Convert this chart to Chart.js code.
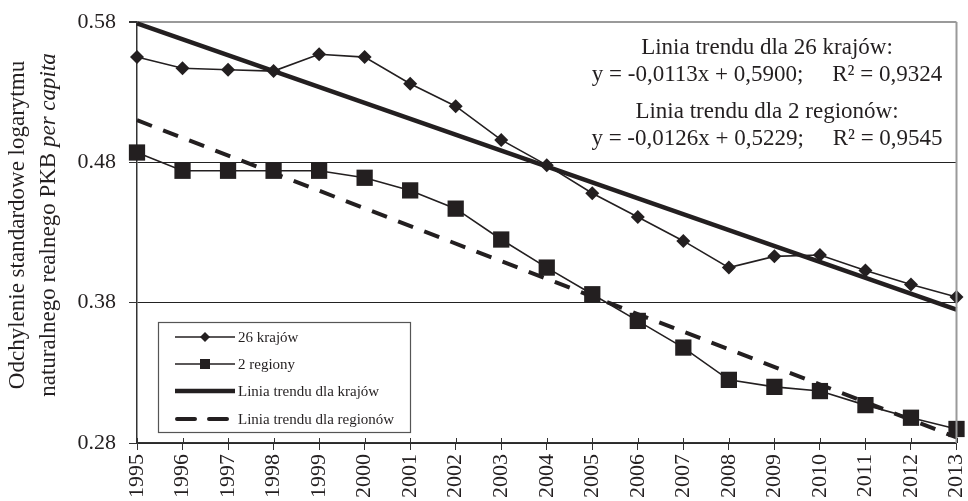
<!DOCTYPE html>
<html>
<head>
<meta charset="utf-8">
<script src="https://cdn.jsdelivr.net/npm/chart.js@4/dist/chart.umd.min.js"></script>
<style>
  body { margin: 0; background: #fff; }
</style>
</head>
<body>
<canvas id="chart" width="968" height="501"></canvas>
<script>

const years = ["1995","1996","1997","1998","1999","2000","2001","2002","2003","2004",
               "2005","2006","2007","2008","2009","2010","2011","2012","2013"]

const kraje26 = [0.555, 0.547, 0.546, 0.545, 0.557, 0.555, 0.536, 0.520, 0.496, 0.478,
                 0.458, 0.441, 0.424, 0.405, 0.413, 0.414, 0.403, 0.393, 0.384]

const regiony2 = [0.487, 0.474, 0.474, 0.474, 0.474, 0.469, 0.460, 0.447, 0.425, 0.405,
                  0.386, 0.367, 0.348, 0.325, 0.320, 0.317, 0.307, 0.298, 0.290]

// trend lines - only the two ends as seen on the picture
const trendKraje = [0.579, null, null, null, null, null, null, null, null, null,
                    null, null, null, null, null, null, null, null, 0.375]
const trendRegiony = [0.510, null, null, null, null, null, null, null, null, null,
                      null, null, null, null, null, null, null, null, 0.284]

const yTicks = [0.28, 0.38, 0.48, 0.58]

const seriesNames = ["26 krajów", "2 regiony", "Linia trendu dla krajów", "Linia trendu dla regionów"]

const trendText = [
    "Linia trendu dla 26 krajów:",
    "y = -0,0113x + 0,5900;     R² = 0,9324",
    "Linia trendu dla 2 regionów:",
    "y = -0,0126x + 0,5229;     R² = 0,9545"
]

const ink = "#231f20"
const serif = "'Liberation Serif', 'Times New Roman', serif"


const extras = {
    id: "extras",

    afterDraw(chart){
        const ctx = chart.ctx
        const area = chart.chartArea
        const x = chart.scales.x

        ctx.save()

        // right border of the plot
        ctx.strokeStyle = "#9a9a9a"
        ctx.lineWidth = 2
        ctx.beginPath()
        ctx.moveTo(area.right, area.top)
        ctx.lineTo(area.right, area.bottom)
        ctx.stroke()

        // small ticks inside the plot on the x axis
        ctx.strokeStyle = "#333"
        ctx.lineWidth = 1
        years.forEach(function(y, i){
            const px = Math.round(x.getPixelForValue(i)) + 0.5
            ctx.beginPath()
            ctx.moveTo(px, area.bottom)
            ctx.lineTo(px, area.bottom - 5)
            ctx.stroke()
        })

        // trend equations
        ctx.fillStyle = ink
        ctx.textAlign = "center"
        ctx.textBaseline = "middle"
        ctx.font = "23px " + serif
        const rows = [48, 75, 112, 139]
        trendText.forEach(function(t, i){
            ctx.fillText(t, 767, rows[i])
        })

        // y title, two rotated lines, "per capita" in italic
        ctx.save()
        ctx.translate(18, 225)
        ctx.rotate(-Math.PI / 2)
        ctx.textBaseline = "middle"
        ctx.textAlign = "center"
        ctx.font = "23px " + serif
        ctx.fillText("Odchylenie standardowe logarytmu", 0, 0)
        const a = "naturalnego realnego PKB "
        const b = "per capita"
        ctx.font = "23px " + serif
        const wa = ctx.measureText(a).width
        ctx.font = "italic 23px " + serif
        const wb = ctx.measureText(b).width
        ctx.textAlign = "left"
        ctx.font = "23px " + serif
        ctx.fillText(a, -(wa + wb) / 2, 31)
        ctx.font = "italic 23px " + serif
        ctx.fillText(b, -(wa + wb) / 2 + wa, 31)
        ctx.restore()

        // legend box
        const bx = 158, by = 322, bw = 252, bh = 110
        ctx.fillStyle = "#fff"
        ctx.fillRect(bx, by, bw, bh)
        ctx.strokeStyle = "#555"
        ctx.lineWidth = 1.2
        ctx.strokeRect(bx + 0.5, by + 0.5, bw, bh)

        const ly = [337, 364, 391, 419]
        const sx1 = 175, sx2 = 235
        ctx.font = "15px " + serif
        ctx.textAlign = "left"
        ctx.textBaseline = "middle"

        chart.data.datasets.forEach(function(ds, i){
            ctx.strokeStyle = ink
            ctx.lineWidth = ds.borderWidth
            ctx.setLineDash(ds.borderDash ? [18, 14] : [])
            ctx.lineCap = ds.borderDash ? "round" : "butt"
            ctx.beginPath()
            ctx.moveTo(sx1 + (ds.borderDash ? 2 : 0), ly[i])
            ctx.lineTo(sx2, ly[i])
            ctx.stroke()
            ctx.setLineDash([])
            ctx.fillStyle = ink
            const mx = (sx1 + sx2) / 2
            if(ds.pointStyle == "rectRot" && ds.pointRadius > 0){
                ctx.beginPath()
                ctx.moveTo(mx - 5, ly[i])
                ctx.lineTo(mx, ly[i] - 5)
                ctx.lineTo(mx + 5, ly[i])
                ctx.lineTo(mx, ly[i] + 5)
                ctx.closePath()
                ctx.fill()
            }
            if(ds.pointStyle == "rect" && ds.pointRadius > 0){
                ctx.fillRect(mx - 5, ly[i] - 5, 10, 10)
            }
            ctx.fillText(ds.label, sx2 + 3, ly[i] + 1)
        })

        ctx.restore()
    }
}


new Chart(document.getElementById("chart"),{

    type:"line",

    data:{
        labels:years,

        datasets:[
            {
                label:seriesNames[0],
                data:kraje26,
                borderColor:ink,
                borderWidth:1.6,
                pointStyle:"rectRot",
                pointRadius:7,
                pointBorderWidth:0,
                pointBackgroundColor:ink,
                clip:false
            },
            {
                label:seriesNames[1],
                data:regiony2,
                borderColor:ink,
                borderWidth:1.6,
                pointStyle:"rect",
                pointRadius:11.5,
                pointBorderWidth:0,
                pointBackgroundColor:ink,
                clip:false
            },
            {
                label:seriesNames[2],
                data:trendKraje,
                borderColor:ink,
                borderWidth:4.5,
                pointRadius:0,
                spanGaps:true,
                clip:false
            },
            {
                label:seriesNames[3],
                data:trendRegiony,
                borderColor:ink,
                borderWidth:4,
                borderDash:[16, 12],
                pointRadius:0,
                spanGaps:true,
                clip:false
            }
        ]
    },

    options:{
        responsive:false,
        animation:false,
        layout:{
            padding:{ top:22, right:9, left:0, bottom:0 }
        },
        plugins:{
            legend:{ display:false },
            tooltip:{ enabled:false }
        },
        scales:{
            x:{
                offset:false,
                afterFit: function(s){
                    s.height = 58
                    s.paddingLeft = 0
                    s.paddingRight = 0
                },
                grid:{
                    drawOnChartArea:false,
                    tickLength:7,
                    tickColor:"#333"
                },
                border:{ color:"#333", width:1.5 },
                ticks:{
                    autoSkip:false,
                    minRotation:90,
                    maxRotation:90,
                    padding:4,
                    color:ink,
                    font:{ family:serif, size:22 }
                }
            },
            y:{
                min:0.28,
                max:0.58,
                afterFit: function(s){
                    s.width = 137
                    s.paddingTop = 0
                    s.paddingBottom = 0
                },
                afterBuildTicks: function(s){
                    s.ticks = yTicks.map(function(v){ return { value:v } })
                },
                grid:{
                    tickLength:8,
                    color: function(c){
                        if(c.tick && c.tick.value > 0.57) return "#9a9a9a"
                        return "#222"
                    },
                    lineWidth: function(c){
                        if(c.tick && c.tick.value > 0.57) return 2
                        return 1
                    },
                    tickColor:"#333"
                },
                border:{ color:"#333", width:1.5 },
                ticks:{
                    padding:13,
                    color:ink,
                    font:{ family:serif, size:22 },
                    callback: function(v){ return Number(v).toFixed(2) }
                }
            }
        }
    },

    plugins:[extras]

})

</script>
</body>
</html>
